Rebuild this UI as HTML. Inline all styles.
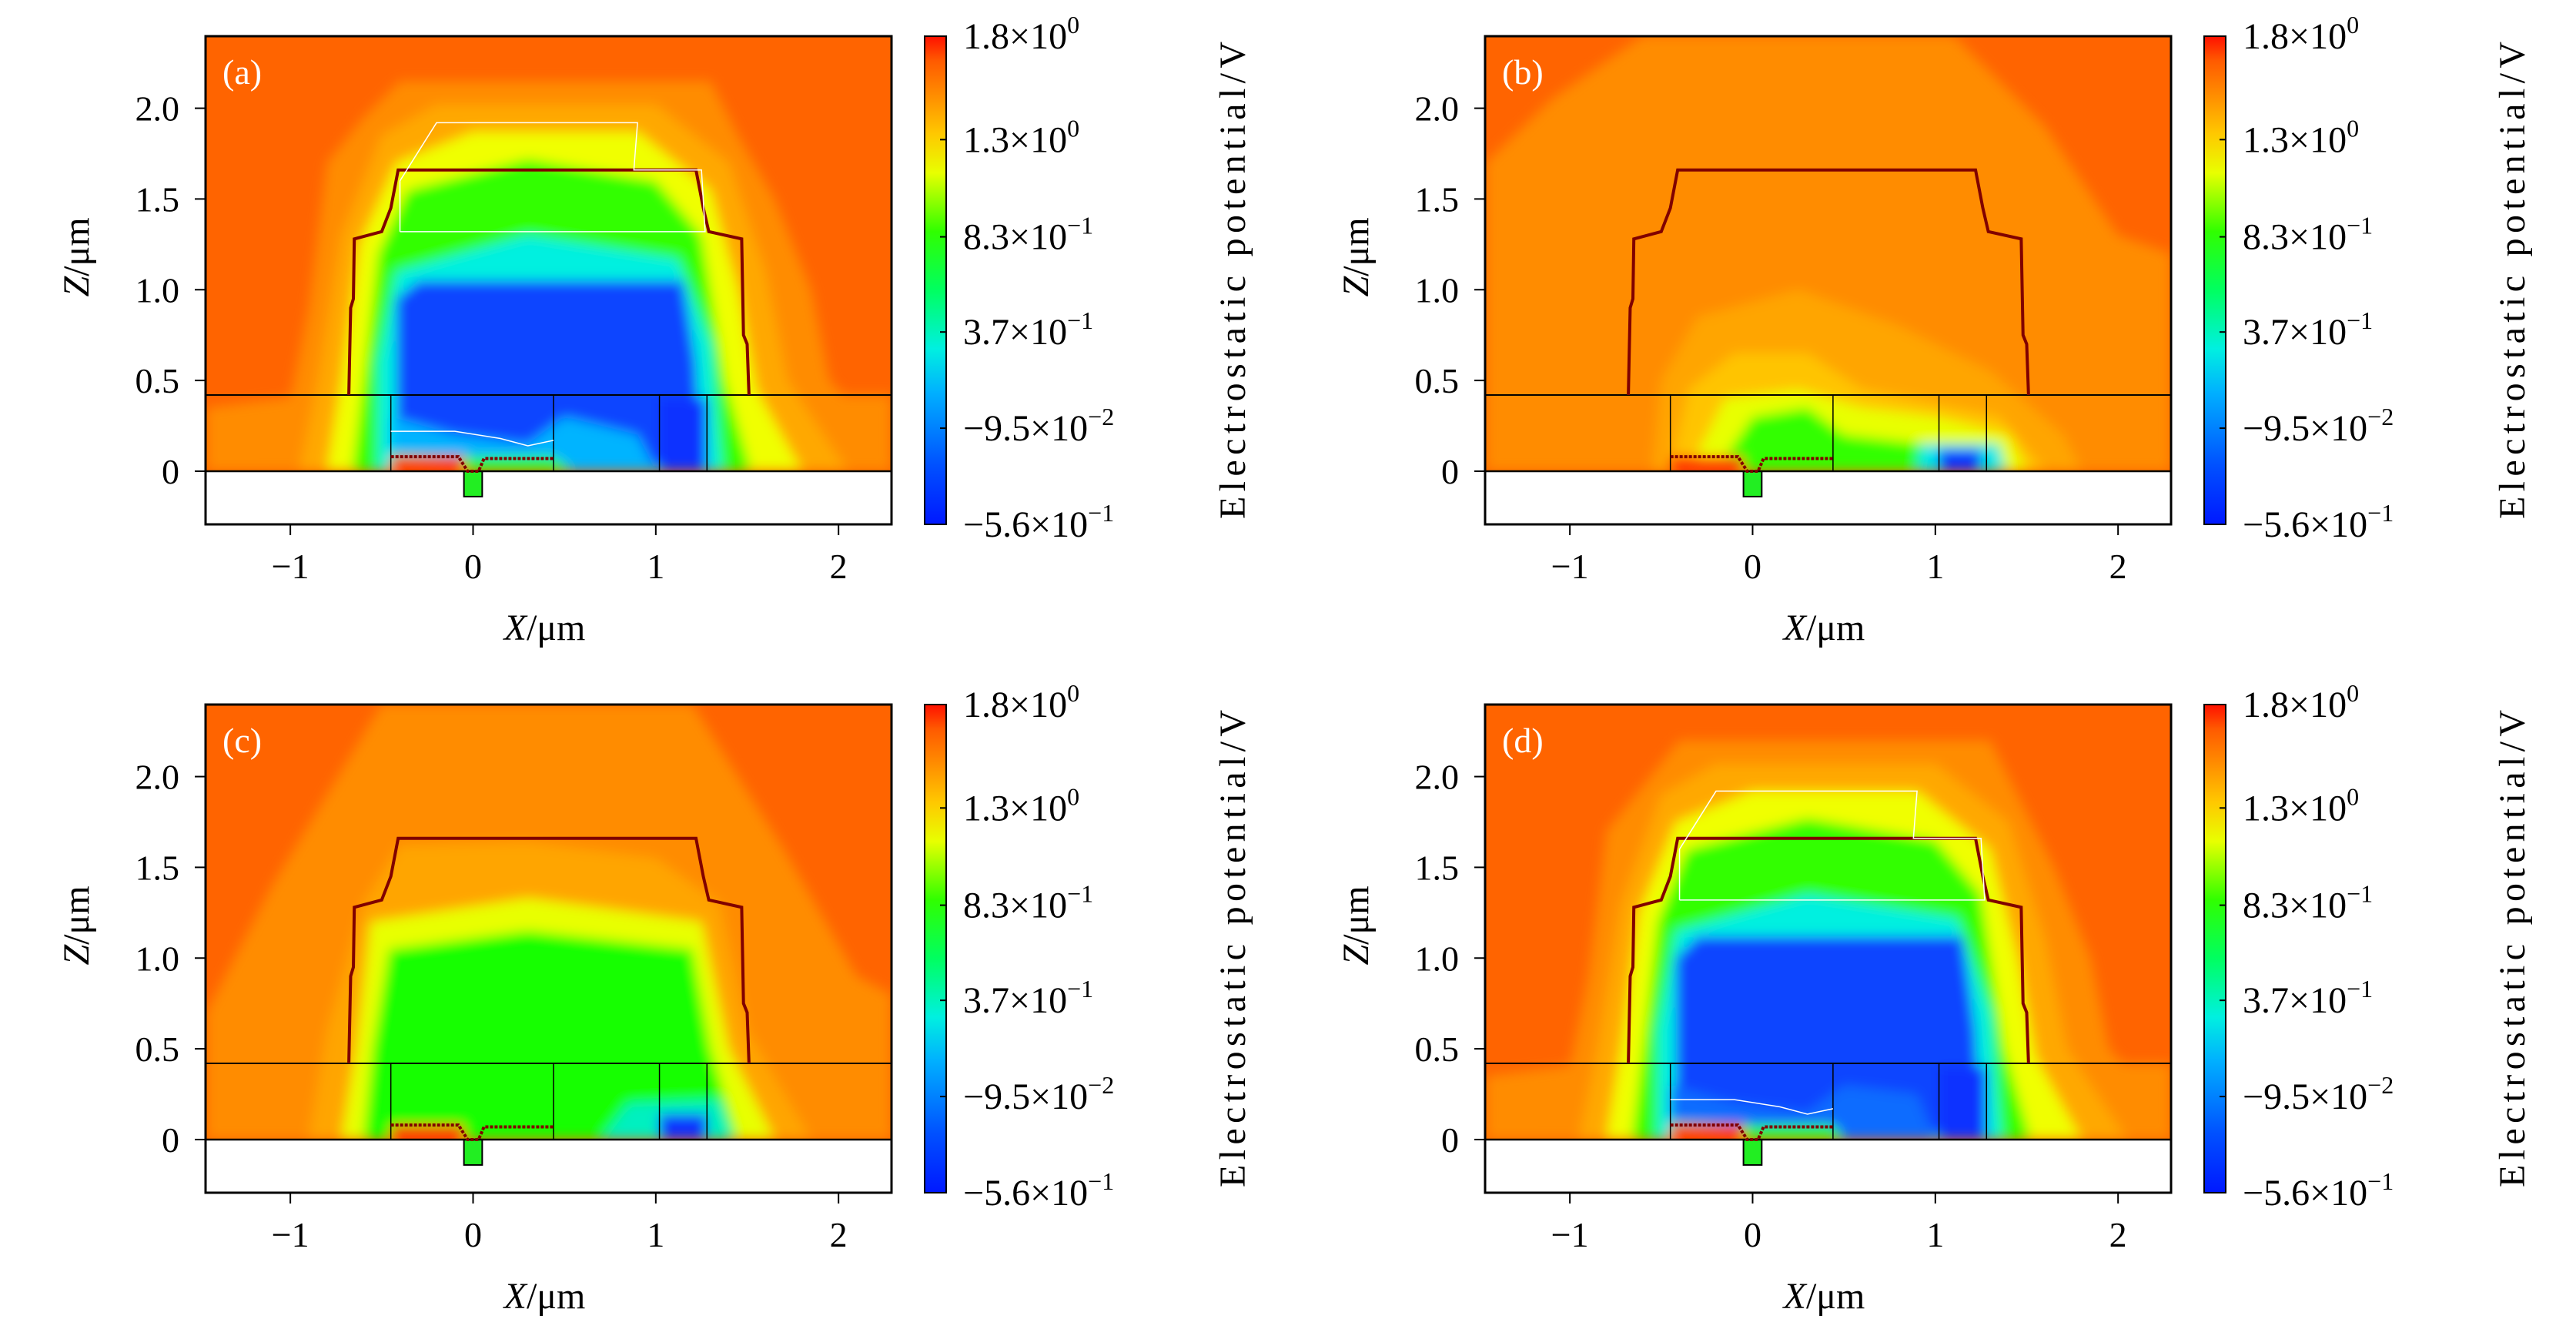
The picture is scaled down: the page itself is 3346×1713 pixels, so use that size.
<!DOCTYPE html>
<html><head><meta charset="utf-8"><style>
html,body{margin:0;padding:0;background:#fff;}
svg{display:block;font-family:"Liberation Serif","DejaVu Serif",serif;}
</style></head><body>
<svg id="fig" width="3346" height="1713" viewBox="0 0 3346 1713" xmlns="http://www.w3.org/2000/svg">
<defs>
<linearGradient id="jet" x1="0" y1="1" x2="0" y2="0">
<stop offset="0" stop-color="#0018ff"/><stop offset="0.12" stop-color="#0050ff"/>
<stop offset="0.27" stop-color="#00b0ff"/><stop offset="0.36" stop-color="#00f0e0"/>
<stop offset="0.48" stop-color="#00ff60"/><stop offset="0.6" stop-color="#30ff00"/>
<stop offset="0.72" stop-color="#e8ff00"/><stop offset="0.8" stop-color="#ffc800"/>
<stop offset="0.88" stop-color="#ff8c00"/><stop offset="0.95" stop-color="#ff5a00"/>
<stop offset="1" stop-color="#ff1000"/></linearGradient>
<filter id="bl" x="-5%" y="-5%" width="110%" height="110%"><feGaussianBlur stdDeviation="8"/></filter>
</defs>
</svg>
<script>
// axis domains
const xDomain=[-1.464,2.29], zDomain=[-0.293,2.397];
const xTicks=[-1,0,1,2], xTickLabels=["\u22121","0","1","2"];
const zTicks=[0,0.5,1.0,1.5,2.0], zTickLabels=["0","0.5","1.0","1.5","2.0"];
const cbTickValues=[1.8,1.3,0.83,0.37,-0.095,-0.56];
const cbMant=["1.8","1.3","8.3","3.7","\u22129.5","\u22125.6"], cbExp=["0","0","\u22121","\u22121","\u22122","\u22121"];
const cbRange=[-0.56,1.8];
const panelLabels=["(a)","(b)","(c)","(d)"];
// structure outline (data units)
const outline=[[-0.68,0.42],[-0.67,0.9],[-0.655,0.95],[-0.65,1.28],[-0.5,1.32],[-0.45,1.45],[-0.41,1.66],[1.22,1.66],[1.26,1.45],[1.29,1.32],[1.47,1.28],[1.48,0.75],[1.5,0.7],[1.51,0.42]];
const cellX=[-0.45,0.44,1.02,1.28];
// contour layers per panel: [color, polygon]
const layersA=[
["#ff8c00",[[-1.46,0],[-1.46,0.35],[-0.9,0.42],[-0.6,0.42],[1.6,0.42],[2.29,0.42],[2.29,0]]],
["#ff8c00",[[-1.15,0],[-1.0,0.4],[-0.9,0.9],[-0.8,1.7],[-0.6,1.95],[-0.4,2.15],[1.3,2.15],[1.45,1.85],[1.65,1.5],[1.85,1.0],[1.95,0.5],[2.29,0.15],[2.29,0]]],
["#ffa800",[[-0.95,0],[-0.85,0.5],[-0.72,1.3],[-0.5,1.85],[-0.2,2.02],[1.0,2.02],[1.4,1.7],[1.6,1.1],[1.72,0.5],[2.05,0]]],
["#f0ff00",[[-0.8,0],[-0.72,0.5],[-0.62,1.25],[-0.42,1.7],[0,1.87],[0.9,1.87],[1.3,1.55],[1.45,1.0],[1.55,0.45],[1.8,0]]],
["#30ff00",[[-0.66,0],[-0.6,0.5],[-0.52,1.2],[-0.36,1.55],[0.3,1.72],[1.0,1.6],[1.25,1.3],[1.38,0.5],[1.52,0]]],
["#00f0e0",[[-0.52,0],[-0.52,0.6],[-0.42,1.1],[0.3,1.3],[1.12,1.17],[1.3,0.7],[1.36,0]]],
["#0a45ff",[[-0.42,0.2],[-0.42,0.95],[-0.3,1.05],[1.15,1.05],[1.22,0.6],[1.25,0]]],
["#00b4ff",[[-0.45,0],[-0.45,0.3],[-0.1,0.2],[0.3,0.15],[0.5,0.3],[0.9,0.2],[1.0,0]]],
["#30ff00",[[-0.45,0],[-0.45,0.1],[0,0.08],[0.44,0.08],[0.55,0]]],
["#ff2200",[[-0.45,0],[-0.45,0.08],[-0.05,0.08],[-0.05,0]]],
["#0a30ff",[[1.02,0],[1.02,0.4],[1.28,0.4],[1.28,0]]]];
const layersD=[
["#ff8c00",[[-1.46,0],[-1.46,0.35],[-0.9,0.42],[2.29,0.42],[2.29,0]]],
["#ff8c00",[[-1.15,0],[-1.0,0.4],[-0.9,0.9],[-0.8,1.7],[-0.6,1.95],[-0.4,2.2],[1.3,2.2],[1.45,1.9],[1.65,1.5],[1.85,1.0],[1.95,0.5],[2.29,0.15],[2.29,0]]],
["#ffa800",[[-0.95,0],[-0.85,0.5],[-0.72,1.3],[-0.5,1.9],[-0.2,2.07],[1.0,2.07],[1.4,1.75],[1.6,1.1],[1.72,0.5],[2.05,0]]],
["#f0ff00",[[-0.8,0],[-0.72,0.5],[-0.62,1.25],[-0.42,1.75],[0,1.92],[0.9,1.92],[1.3,1.6],[1.45,1.0],[1.55,0.45],[1.8,0]]],
["#30ff00",[[-0.66,0],[-0.6,0.5],[-0.52,1.2],[-0.36,1.6],[0.3,1.77],[1.0,1.65],[1.25,1.35],[1.38,0.5],[1.52,0]]],
["#00f0e0",[[-0.52,0],[-0.52,0.6],[-0.42,1.15],[0.3,1.35],[1.12,1.22],[1.3,0.7],[1.36,0]]],
["#0a45ff",[[-0.42,0.2],[-0.42,1.0],[-0.3,1.12],[1.15,1.12],[1.22,0.6],[1.25,0]]],
["#0a6cff",[[-0.45,0],[-0.45,0.3],[-0.1,0.2],[0.3,0.15],[0.5,0.3],[0.9,0.25],[1.0,0]]],
["#30ff00",[[-0.45,0],[-0.45,0.1],[0,0.08],[0.44,0.08],[0.5,0]]],
["#ff2200",[[-0.45,0],[-0.45,0.08],[-0.05,0.08],[-0.05,0]]],
["#0a30ff",[[1.02,0],[1.02,0.4],[1.28,0.4],[1.28,0]]]];
const layersB=[
["#ff8c00",[[-1.46,0],[-1.46,1.7],[-1.1,2.05],[-0.6,2.4],[1.1,2.4],[1.6,1.9],[2.0,1.3],[2.29,1.2],[2.29,0]]],
["#ff8c00",[[-1.46,0],[-1.46,0.42],[2.29,0.42],[2.29,0]]],
["#ffa500",[[-0.55,0],[-0.5,0.5],[-0.3,0.85],[0.25,1.0],[0.8,0.8],[1.3,0.55],[1.7,0.2],[1.8,0]]],
["#ffc400",[[-0.45,0],[-0.35,0.45],[-0.1,0.65],[0.3,0.65],[0.6,0.45],[1.35,0.3],[1.6,0]]],
["#e8ff00",[[-0.35,0],[-0.15,0.4],[0.25,0.45],[0.6,0.35],[1.0,0.3],[1.4,0.2],[1.5,0]]],
["#30ff00",[[-0.2,0],[0.0,0.3],[0.3,0.35],[0.5,0.2],[0.95,0.15],[1.35,0.1],[1.4,0]]],
["#00e8e8",[[0.9,0],[0.92,0.15],[1.35,0.15],[1.38,0]]],
["#0a30ff",[[1.02,0],[1.02,0.12],[1.25,0.12],[1.25,0]]],
["#ff2200",[[-0.45,0],[-0.45,0.08],[-0.05,0.08],[-0.05,0]]]];
const layersC=[
["#ff8c00",[[-1.46,0],[-1.46,0.7],[-1.1,1.4],[-0.5,2.4],[1.2,2.4],[1.7,1.6],[2.1,0.9],[2.29,0.8],[2.29,0]]],
["#ff8c00",[[-1.46,0],[-1.46,0.42],[2.29,0.42],[2.29,0]]],
["#ffa500",[[-0.9,0],[-0.8,0.6],[-0.6,1.3],[-0.4,1.62],[0.3,1.64],[1.0,1.55],[1.35,1.3],[1.5,0.6],[1.85,0]]],
["#e8ff00",[[-0.72,0],[-0.64,0.5],[-0.56,1.2],[0.3,1.33],[1.25,1.2],[1.4,0.5],[1.65,0]]],
["#18ff00",[[-0.6,0],[-0.55,0.5],[-0.46,1.05],[0.3,1.15],[1.2,1.05],[1.3,0.5],[1.45,0]]],
["#00f0c0",[[0.7,0],[0.85,0.2],[1.35,0.22],[1.42,0]]],
["#0a30ff",[[1.02,0],[1.02,0.14],[1.28,0.14],[1.28,0]]],
["#ff2200",[[-0.45,0],[-0.45,0.08],[-0.05,0.08],[-0.05,0]]]];
const panelLayers=[layersA,layersB,layersC,layersD];
const whiteLines=[true,false,false,true];

const NS="http://www.w3.org/2000/svg";
const fig=document.getElementById('fig');
const PW=891,PH=634,L0=267,T0=47,DX=1662,DY=868;
function mk(tag,attrs,parent){const e=document.createElementNS(NS,tag);for(const k in attrs)e.setAttribute(k,attrs[k]);(parent||fig).appendChild(e);return e;}
for(let p=0;p<4;p++){
  const ox=L0+(p%2)*DX, oy=T0+Math.floor(p/2)*DY;
  const sx=v=>ox+(v-xDomain[0])/(xDomain[1]-xDomain[0])*PW;
  const sz=v=>oy+(zDomain[1]-v)/(zDomain[1]-zDomain[0])*PH;
  const g=mk('g',{});
  
  
  const cid='clip'+p;
  const cp=mk('clipPath',{id:cid},g);mk('rect',{x:ox,y:oy,width:PW,height:sz(0)-oy},cp);
  const cg=mk('g',{'clip-path':'url(#'+cid+')'},g);
  const bg=mk('rect',{x:ox,y:oy,width:PW,height:PH,fill:'#ff6400'},cg);
  
  
  const fg=mk('g',{filter:'url(#bl)'},cg);
  panelLayers[p].forEach((ly,i)=>{
    const pts=ly[1].map(q=>sx(q[0]).toFixed(1)+','+sz(q[1]).toFixed(1)).join(' ');
    const pg=mk('polygon',{points:pts,fill:ly[0]},fg);
    
    
  });
  mk('rect',{x:ox,y:sz(0),width:PW,height:oy+PH-sz(0),fill:'#fff'},g);
  mk('rect',{x:sx(-0.05),y:sz(0),width:sx(0.05)-sx(-0.05),height:sz(-0.14)-sz(0),fill:'#22ee22',stroke:'#000','stroke-width':2},g);
  mk('line',{x1:ox,x2:ox+PW,y1:sz(0.42),y2:sz(0.42),stroke:'#000','stroke-width':2},g);
  mk('line',{x1:ox,x2:ox+PW,y1:sz(0),y2:sz(0),stroke:'#000','stroke-width':2.5},g);
  cellX.forEach(c=>mk('line',{x1:sx(c),x2:sx(c),y1:sz(0),y2:sz(0.42),stroke:'#000','stroke-width':1.5},g));
  const op=mk('polyline',{points:outline.map(q=>sx(q[0])+','+sz(q[1])).join(' '),fill:'none',stroke:'#800000','stroke-width':4},g);
  
  
  mk('polyline',{points:[[-0.45,0.08],[-0.08,0.08],[-0.03,0],[0.03,0],[0.06,0.07],[0.44,0.07]].map(q=>sx(q[0])+','+sz(q[1])).join(' '),fill:'none',stroke:'#800000','stroke-width':4,'stroke-dasharray':'4 2'},g);
  if(whiteLines[p]){
    const wl=[[-0.4,1.32],[-0.4,1.6],[-0.2,1.92],[0.9,1.92],[0.88,1.66],[1.25,1.66],[1.27,1.32],[-0.4,1.32]];
    mk('polyline',{points:wl.map(q=>sx(q[0])+','+sz(q[1])).join(' '),fill:'none',stroke:'#fff','stroke-width':1.5},g);
    mk('polyline',{points:[[-0.45,0.22],[-0.1,0.22],[0.15,0.18],[0.3,0.14],[0.44,0.17]].map(q=>sx(q[0])+','+sz(q[1])).join(' '),fill:'none',stroke:'#fff','stroke-width':1.5},g);
  }
  mk('rect',{x:ox,y:oy,width:PW,height:PH,fill:'none',stroke:'#000','stroke-width':3},g);
  const pl=mk('text',{x:ox+22,y:oy+62,'font-size':46,fill:'#fff'},g);pl.textContent=panelLabels[p];
  
  
  xTicks.forEach((t,i)=>{
    mk('line',{x1:sx(t),x2:sx(t),y1:oy+PH,y2:oy+PH+14,stroke:'#000','stroke-width':2},g);
    const tx=mk('text',{x:sx(t),y:oy+PH+70,'font-size':46,'text-anchor':'middle'},g);tx.textContent=xTickLabels[i];
    
    
  });
  zTicks.forEach((t,i)=>{
    mk('line',{x1:ox-14,x2:ox,y1:sz(t),y2:sz(t),stroke:'#000','stroke-width':2},g);
    const tz=mk('text',{x:ox-34,y:sz(t)+16,'font-size':46,'text-anchor':'end'},g);tz.textContent=zTickLabels[i];
    
    
  });
  const xl=mk('text',{x:ox+PW/2-5,y:oy+PH+150,'font-size':48,'text-anchor':'middle'},g);
  xl.innerHTML='<tspan font-style="italic">X</tspan>/μm';
  
  
  const zl=mk('text',{x:0,y:0,'font-size':48,'text-anchor':'middle',transform:'translate('+(ox-152)+','+(oy+PH/2-30)+') rotate(-90)'},g);
  zl.innerHTML='<tspan font-style="italic">Z</tspan>/μm';
  
  
  const cbx=ox+934, cbw=28;
  const cb=mk('rect',{x:cbx,y:oy,width:cbw,height:PH,fill:'url(#jet)',stroke:'#000','stroke-width':2},g);
  
  
  const cy=v=>oy+(cbRange[1]-v)/(cbRange[1]-cbRange[0])*PH;
  cbTickValues.forEach((v,i)=>{
    mk('line',{x1:cbx+cbw-8,x2:cbx+cbw,y1:cy(v),y2:cy(v),stroke:'#000','stroke-width':2},g);
    const ct=mk('text',{x:cbx+50,y:cy(v)+16,'font-size':48},g);
    ct.innerHTML=cbMant[i]+'×10<tspan font-size="32" dy="-20">'+cbExp[i]+'</tspan>';
    
    
  });
  const cl=mk('text',{x:0,y:0,'font-size':48,'text-anchor':'middle',textLength:620,lengthAdjust:'spacing',transform:'translate('+(ox+1350)+','+(oy+PH/2)+') rotate(-90)'},g);
  cl.textContent='Electrostatic potential/V';
  
  
}
</script>
</body></html>
